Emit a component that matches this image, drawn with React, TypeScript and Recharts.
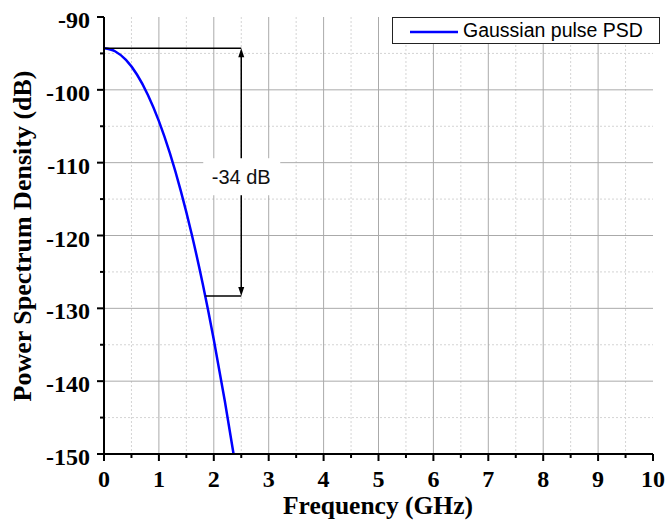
import { LineChart, Line, XAxis, YAxis, CartesianGrid, ReferenceLine, ReferenceDot, Legend } from 'recharts';

// Gaussian pulse power spectrum density
const FREQ_GHZ = [0, 0.2, 0.4, 0.6, 0.8, 1.0, 1.2, 1.4, 1.6, 1.8, 2.0, 2.2, 2.36];
const PSD_DB = [-94.3, -94.7, -95.9, -97.9, -100.7, -104.3, -108.7, -113.9, -119.9, -126.7, -134.3, -142.7, -150];

const X_TICKS = [0, 0.5, 1, 1.5, 2, 2.5, 3, 3.5, 4, 4.5, 5, 5.5, 6, 6.5, 7, 7.5, 8, 8.5, 9, 9.5, 10];
const Y_TICKS = [-150, -145, -140, -135, -130, -125, -120, -115, -110, -105, -100, -95, -90];
const X_GRID_MAJOR = [1, 2, 3, 4, 5, 6, 7, 8, 9];
const X_GRID_MINOR = [0.5, 1.5, 2.5, 3.5, 4.5, 5.5, 6.5, 7.5, 8.5, 9.5];
const Y_GRID_MAJOR = [-140, -130, -120, -110, -100];
const Y_GRID_MINOR = [-145, -135, -125, -115, -105, -95];

// -34 dB annotation
const PEAK_DB = -94.3;
const DROP_DB = -128.3;
const MARK_FREQ = 2.5;
const DROP_FREQ = 1.85;
const LABEL_DB = -112;
const DROP_LABEL = '-34 dB';

const SERIES_NAME = 'Gaussian pulse PSD';

const data = FREQ_GHZ.map((f, i) => ({ freq: f, psd: PSD_DB[i] }));

const SERIF = '"Liberation Serif", "Times New Roman", serif';
const SANS = '"Liberation Sans", Arial, sans-serif';

function XTick({ x, y, payload }: any) {
  const major = Number.isInteger(payload.value);
  return (
    <g>
      <line x1={x} y1={y} x2={x} y2={y + (major ? 7 : 4)} stroke="#000" strokeWidth={2} />
      {major && (
        <text x={x} y={y + 33} textAnchor="middle" fontFamily={SERIF} fontWeight="bold" fontSize={24} fill="#000">
          {payload.value}
        </text>
      )}
    </g>
  );
}

function YTick({ x, y, payload }: any) {
  const major = payload.value % 10 === 0;
  return (
    <g>
      <line x1={x} y1={y} x2={x - (major ? 7 : 4)} y2={y} stroke="#000" strokeWidth={2} />
      {major && (
        <text x={x - 14} y={y + 11} textAnchor="end" fontFamily={SERIF} fontWeight="bold" fontSize={24} fill="#000">
          {payload.value}
        </text>
      )}
    </g>
  );
}

function DoubleArrow({ x1, y1, y2 }: any) {
  const top = Math.min(y1, y2);
  const bot = Math.max(y1, y2);
  return (
    <g>
      <line x1={x1} y1={top + 6} x2={x1} y2={bot - 6} stroke="#000" strokeWidth={1.5} />
      <polygon points={`${x1},${top} ${x1 - 3},${top + 9} ${x1 + 3},${top + 9}`} fill="#000" />
      <polygon points={`${x1},${bot} ${x1 - 3},${bot - 9} ${x1 + 3},${bot - 9}`} fill="#000" />
    </g>
  );
}

function DropLabel({ cx, cy }: any) {
  return (
    <g>
      <rect x={cx - 38} y={cy - 19} width={77} height={37} fill="#fff" />
      <text x={cx} y={cy} textAnchor="middle" dominantBaseline="central" fontFamily={SANS} fontSize={20} fill="#111">
        {DROP_LABEL}
      </text>
    </g>
  );
}

function LegendBox({ payload }: any) {
  const item = payload && payload[0];
  return (
    <svg width={268} height={27}>
      <rect x={0.5} y={0.5} width={267} height={26} fill="#fff" stroke="#222" strokeWidth={1} />
      <line x1={18} y1={15} x2={66} y2={15} stroke={item?.color ?? '#0000ff'} strokeWidth={2.5} />
      <text x={71} y={20} fontFamily={SANS} fontSize={19.5} fill="#000">
        {item?.value ?? SERIES_NAME}
      </text>
    </svg>
  );
}

export default function App() {
  return (
    <div style={{ position: 'absolute', left: 0, top: 0, background: '#fff' }}>
      <LineChart width={668} height={522} data={data} margin={{ top: 17, right: 15, bottom: 0, left: 0 }}>
        <CartesianGrid
          horizontalValues={Y_GRID_MINOR}
          verticalValues={X_GRID_MINOR}
          stroke="#d4d4d4"
          strokeDasharray="2 2"
        />
        <CartesianGrid horizontalValues={Y_GRID_MAJOR} verticalValues={X_GRID_MAJOR} stroke="#aaaaaa" />
        <XAxis
          dataKey="freq"
          type="number"
          domain={[0, 10]}
          ticks={X_TICKS}
          interval={0}
          height={68}
          tickSize={0}
          tickMargin={0}
          tickLine={false}
          tick={<XTick />}
          axisLine={{ stroke: '#000', strokeWidth: 2 }}
          label={{
            content: () => (
              <text x={378} y={514} textAnchor="middle" fontFamily={SERIF} fontWeight="bold" fontSize={25.5} fill="#000">
                Frequency (GHz)
              </text>
            ),
          }}
        />
        <YAxis
          type="number"
          domain={[-150, -90]}
          ticks={Y_TICKS}
          interval={0}
          width={104}
          tickSize={0}
          tickMargin={0}
          tickLine={false}
          tick={<YTick />}
          axisLine={{ stroke: '#000', strokeWidth: 2 }}
          label={{
            content: () => (
              <text
                x={31}
                y={236}
                transform="rotate(-90, 31, 236)"
                textAnchor="middle"
                fontFamily={SERIF}
                fontWeight="bold"
                fontSize={26}
                fill="#000"
              >
                Power Spectrum Density (dB)
              </text>
            ),
          }}
        />
        <Line
          type="monotone"
          dataKey="psd"
          name={SERIES_NAME}
          stroke="#0000ff"
          strokeWidth={2.5}
          dot={false}
          activeDot={false}
          isAnimationActive={false}
        />
        <ReferenceLine segment={[{ x: 0, y: PEAK_DB }, { x: MARK_FREQ, y: PEAK_DB }]} stroke="#000" strokeWidth={1.5} />
        <ReferenceLine segment={[{ x: DROP_FREQ, y: DROP_DB }, { x: MARK_FREQ, y: DROP_DB }]} stroke="#000" strokeWidth={1.5} />
        <ReferenceLine
          segment={[{ x: MARK_FREQ, y: PEAK_DB }, { x: MARK_FREQ, y: DROP_DB }]}
          shape={(p: any) => <DoubleArrow {...p} />}
        />
        <ReferenceDot x={MARK_FREQ} y={LABEL_DB} shape={(p: any) => <DropLabel {...p} />} />
        <Legend
          layout="vertical"
          align="center"
          verticalAlign="middle"
          wrapperStyle={{ top: 17, left: 392, width: 268, height: 27 }}
          content={(p: any) => <LegendBox {...p} />}
        />
      </LineChart>
    </div>
  );
}
